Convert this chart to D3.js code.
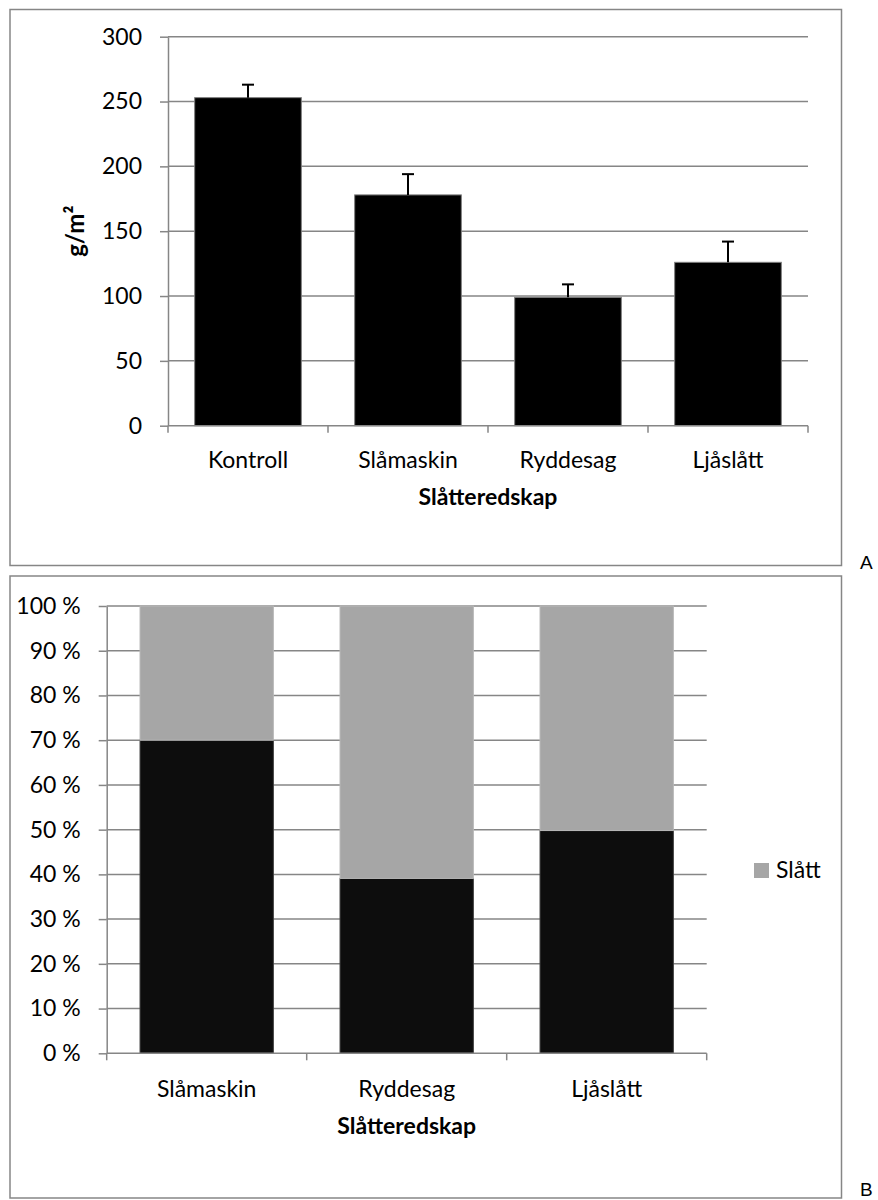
<!DOCTYPE html>
<html>
<head>
<meta charset="utf-8">
<script src="https://cdn.jsdelivr.net/npm/d3@7"></script>
<style>
  html, body { margin: 0; padding: 0; background: #fff; }
  svg { display: block; }
  text { font-family: Lato, "Open Sans", sans-serif; fill: #000; }
</style>
</head>
<body>
<svg id="chart" width="878" height="1200"></svg>
<script>
// ---------- Data ----------
const categoriesA = ["Kontroll", "Slåmaskin", "Ryddesag", "Ljåslått"];
const valuesA = [253, 178, 99, 126];
const errorsA = [10, 16, 10, 16];
const ticksA = [0, 50, 100, 150, 200, 250, 300];

const categoriesB = ["Slåmaskin", "Ryddesag", "Ljåslått"];
const seriesBLower = [70, 39.1, 49.8];   // black, unnamed series
const seriesSlatt = [30, 60.9, 50.2];    // "Slått"
const ticksB = [0, 10, 20, 30, 40, 50, 60, 70, 80, 90, 100];

const axisTitle = "Slåtteredskap";
const yTitleA = "g/m²";
const legendName = "Slått";

// ---------- Styles ----------
const gridColor = "#868686";
const fontSize = 23;

const svg = d3.select("#chart");

// Panel borders
svg.append("rect").attr("x", 10).attr("y", 9.5).attr("width", 831.5).attr("height", 556)
  .attr("fill", "none").attr("stroke", gridColor).attr("stroke-width", 1.5);
svg.append("rect").attr("x", 10).attr("y", 576).attr("width", 831.5).attr("height", 622)
  .attr("fill", "none").attr("stroke", gridColor).attr("stroke-width", 1.5);

svg.append("text").attr("x", 860).attr("y", 569)
  .style("font-family", "'Liberation Sans', Arial, sans-serif").style("font-size", "19px").text("A");
svg.append("text").attr("x", 860).attr("y", 1196)
  .style("font-family", "'Liberation Sans', Arial, sans-serif").style("font-size", "19px").text("B");

function drawBandAxis(g, x, y0, labelDy) {
  const [r0, r1] = x.range();
  g.append("line").attr("x1", r0).attr("x2", r1).attr("y1", y0).attr("y2", y0)
    .attr("stroke", gridColor).attr("stroke-width", 1.5);
  const n = x.domain().length;
  for (let i = 0; i <= n; i++) {
    const xx = r0 + i * x.step();
    g.append("line").attr("x1", xx).attr("x2", xx).attr("y1", y0).attr("y2", y0 + 7)
      .attr("stroke", gridColor).attr("stroke-width", 1.5);
  }
  g.selectAll("text.xl").data(x.domain()).join("text").attr("class", "xl")
    .attr("x", d => x(d) + x.bandwidth() / 2).attr("y", y0 + labelDy)
    .attr("text-anchor", "middle").style("font-size", fontSize + "px").text(d => d);
}

function drawYAxis(g, y, xPos, ticks, fmt) {
  const ax = d3.axisLeft(y).tickValues(ticks).tickFormat(fmt).tickSizeInner(8).tickSizeOuter(0).tickPadding(18);
  const a = g.append("g").attr("transform", `translate(${xPos},0)`).call(ax);
  a.select(".domain").attr("stroke", gridColor).attr("stroke-width", 1.5);
  a.selectAll(".tick line").attr("stroke", gridColor).attr("stroke-width", 1.5);
  a.selectAll(".tick text").style("font-size", fontSize + "px")
    .style("font-family", "Lato, sans-serif").attr("fill", "#000");
}

// ---------- Chart A ----------
{
  const g = svg.append("g");
  const x = d3.scaleBand().domain(categoriesA).range([168, 808]).paddingInner(1 / 3).paddingOuter(1 / 6);
  const y = d3.scaleLinear().domain([0, 300]).range([425.7, 36.7]);

  g.selectAll("line.grid").data(ticksA.filter(t => t > 0)).join("line").attr("class", "grid")
    .attr("x1", 168).attr("x2", 808).attr("y1", d => y(d)).attr("y2", d => y(d))
    .attr("stroke", gridColor).attr("stroke-width", 1.5);

  g.selectAll("rect.bar").data(categoriesA).join("rect").attr("class", "bar")
    .attr("x", d => x(d)).attr("width", x.bandwidth())
    .attr("y", (d, i) => y(valuesA[i])).attr("height", (d, i) => y(0) - y(valuesA[i]))
    .attr("fill", "#000").attr("stroke", "#7f7f7f").attr("stroke-width", 1);

  categoriesA.forEach((c, i) => {
    const cx = x(c) + x.bandwidth() / 2;
    g.append("line").attr("x1", cx).attr("x2", cx)
      .attr("y1", y(valuesA[i])).attr("y2", y(valuesA[i] + errorsA[i]))
      .attr("stroke", "#000").attr("stroke-width", 2);
    g.append("line").attr("x1", cx - 6).attr("x2", cx + 6)
      .attr("y1", y(valuesA[i] + errorsA[i])).attr("y2", y(valuesA[i] + errorsA[i]))
      .attr("stroke", "#000").attr("stroke-width", 2);
  });

  drawYAxis(g, y, 168, ticksA, d => d);
  drawBandAxis(g, x, y(0), 42.5);

  g.append("text").attr("x", 488).attr("y", 505).attr("text-anchor", "middle")
    .style("font-size", fontSize + "px").style("font-weight", "bold").text(axisTitle);
  g.append("text").attr("transform", `translate(84,${(y(0) + y(300)) / 2}) rotate(-90)`)
    .attr("text-anchor", "middle").style("font-size", (fontSize + 1) + "px").style("font-weight", "bold").text(yTitleA);
}

// ---------- Chart B ----------
{
  const g = svg.append("g");
  const x = d3.scaleBand().domain(categoriesB).range([106.7, 706.7]).paddingInner(1 / 3).paddingOuter(1 / 6);
  const y = d3.scaleLinear().domain([0, 100]).range([1053.3, 606]);

  g.selectAll("line.grid").data(ticksB.filter(t => t > 0)).join("line").attr("class", "grid")
    .attr("x1", 106.7).attr("x2", 706.7).attr("y1", d => y(d)).attr("y2", d => y(d))
    .attr("stroke", gridColor).attr("stroke-width", 1.5);

  const rows = categoriesB.map((c, i) => ({ cat: c, lower: seriesBLower[i], slatt: seriesSlatt[i] }));
  const stack = d3.stack().keys(["lower", "slatt"]).offset(d3.stackOffsetExpand);
  const layers = stack(rows);
  const colors = { lower: "#0d0d0d", slatt: "#a6a6a6" };

  layers.forEach(layer => {
    g.selectAll(null).data(layer).join("rect")
      .attr("x", d => x(d.data.cat)).attr("width", x.bandwidth())
      .attr("y", d => y(d[1] * 100)).attr("height", d => y(d[0] * 100) - y(d[1] * 100))
      .attr("fill", colors[layer.key])
      .attr("stroke", layer.key === "lower" ? "#404040" : "#b8b8b8").attr("stroke-width", 1);
  });

  drawYAxis(g, y, 106.7, ticksB, d => d + " %");
  drawBandAxis(g, x, y(0), 43.5);

  g.append("text").attr("x", 406.7).attr("y", 1134).attr("text-anchor", "middle")
    .style("font-size", fontSize + "px").style("font-weight", "bold").text(axisTitle);

  g.append("rect").attr("x", 754).attr("y", 863).attr("width", 15).attr("height", 15).attr("fill", colors.slatt);
  g.append("text").attr("x", 776).attr("y", 878).style("font-size", fontSize + "px").text(legendName);
}
</script>
</body>
</html>
